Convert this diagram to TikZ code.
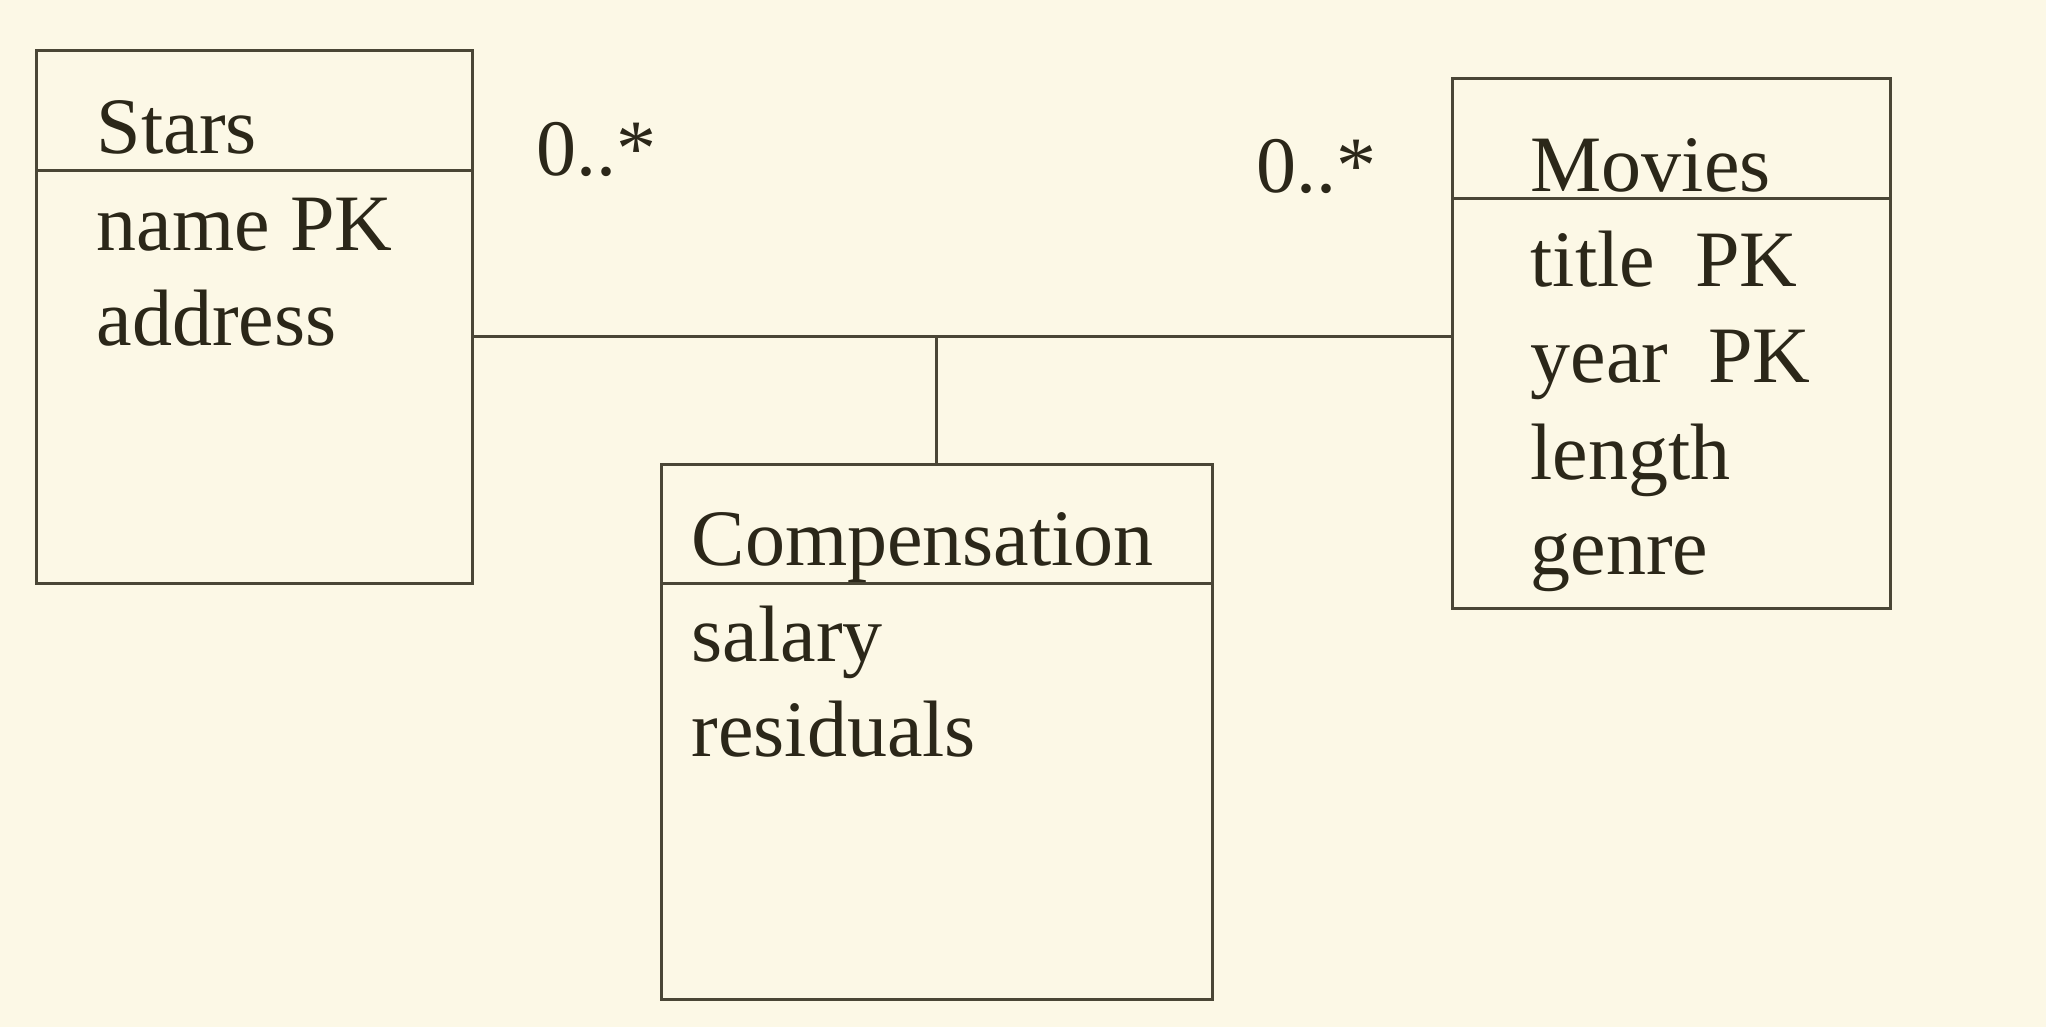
\documentclass[tikz,border=0pt]{standalone}
\usepackage{fontspec}
\setmainfont{Liberation Serif}
\definecolor{bgc}{HTML}{FCF8E6}
\definecolor{linec}{HTML}{4A4636}
\definecolor{txtc}{HTML}{2B2719}
\begin{document}
\begin{tikzpicture}[x=1pt,y=-1pt,
  box/.style={draw=linec, line width=3pt, anchor=north west, inner sep=0pt, outer sep=0pt},
  sep/.style={draw=linec, line width=3pt},
  txt/.style={anchor=base west, inner sep=0pt, text=txtc, font=\fontsize{80}{95}\selectfont},
  conn/.style={draw=linec, line width=3pt}]
\fill[bgc] (0,0) rectangle (2046,1027);
\useasboundingbox (0,0) rectangle (2046,1027);
% Stars
\node[box, minimum width=435.8pt, minimum height=532.3pt] (stars) at (36.5,50.9) {};
\draw[sep] (stars.west |- 0,170.9) -- (stars.east |- 0,170.9);
\node[txt] (starsT) at (96.6,154) {Stars};
\node[txt] (starsA1) at (96.6,250.5) {name PK};
\node[txt] (starsA2) at (96.6,345.8) {address};
% Movies
\node[box, minimum width=438.6pt, minimum height=529.7pt] (movies) at (1452,78.3) {};
\draw[sep] (movies.west |- 0,198.3) -- (movies.east |- 0,198.3);
\node[txt] (moviesT) at (1530.5,191.8) {Movies};
\node[txt] (moviesA1) at (1530.5,287) {title\ \ PK};
\node[txt] (moviesA2) at (1530.5,382) {year\ \ PK};
\node[txt] (moviesA3) at (1530.5,479) {length};
\node[txt] (moviesA4) at (1530.5,574) {genre};
% Compensation
\node[box, minimum width=550.5pt, minimum height=535pt] (comp) at (661.5,464.5) {};
\draw[sep] (comp.west |- 0,583.2) -- (comp.east |- 0,583.2);
\node[txt] (compT) at (691.5,565) {Compensation};
\node[txt] (compA1) at (691.5,661.5) {salary};
\node[txt] (compA2) at (691.5,756.8) {residuals};
% multiplicities
\node[txt] (m1) at (536,176) {0..*};
\node[txt] (m2) at (1256.5,193) {0..*};
% connectors
\coordinate (j) at (comp.north |- 0,336.6);
\draw[conn] (stars.east |- j) -- (movies.west |- j);
\draw[conn] (j) -- (comp.north);
\end{tikzpicture}
\end{document}
